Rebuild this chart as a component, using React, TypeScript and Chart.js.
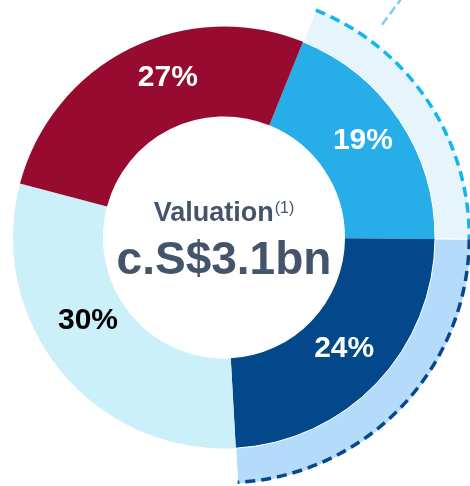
import React, { useEffect, useRef } from 'react';
import { Chart, registerables } from 'chart.js';

Chart.register(...registerables);

// ---- data ----
const categories = ['Segment A', 'Segment B', 'Segment C', 'Segment D'];
const shares = [19, 24, 30, 27];
const shareLabels = ['19%', '24%', '30%', '27%'];
const segmentColors = ['#27ADE8', '#03488B', '#CCF0FA', '#970B30'];
const labelColors = ['#FFFFFF', '#FFFFFF', '#000000', '#FFFFFF'];
const highlightShares = [19, 24, 57];
const highlightColors = ['#E6F5FC', '#B5DBFA', 'rgba(0,0,0,0)'];
const highlightBorders = ['#FFFFFF', '#FFFFFF', 'rgba(0,0,0,0)'];
const highlightDashColors = ['#13B5EC', '#08488A', ''];
const centerTitle = 'Valuation';
const centerNote = '(1)';
const centerValue = 'c.S$3.1bn';

// ---- layout / style ----
const labelAngleShift = [-1.4, -1.1, 8, 7.3];
const labelRadius = [170, 163, 159, 170];
const connectorAngle = 36.6;
const FONT = '"Liberation Sans", Arial, Helvetica, sans-serif';
const DEG = Math.PI / 180;

const overlayPlugin = {
  id: 'overlay',
  afterDatasetsDraw(chart: any) {
    const ctx = chart.ctx as CanvasRenderingContext2D;
    const outer = chart.getDatasetMeta(0).data;
    const inner = chart.getDatasetMeta(1).data;
    const cx = inner[0].x;
    const cy = inner[0].y;
    ctx.save();

    // dashed outer arcs
    outer.forEach((arc: any, i: number) => {
      const color = highlightDashColors[i];
      if (!color) return;
      const p = arc.getProps(['startAngle', 'endAngle', 'outerRadius'], true);
      ctx.beginPath();
      ctx.setLineDash([10, 6]);
      ctx.lineWidth = 3.5;
      ctx.strokeStyle = color;
      ctx.arc(cx, cy, p.outerRadius - 1.75, p.startAngle, p.endAngle);
      ctx.stroke();
    });

    // connector
    const ca = (connectorAngle - 90) * DEG;
    ctx.beginPath();
    ctx.setLineDash([9, 4]);
    ctx.lineWidth = 2.5;
    ctx.strokeStyle = '#80CDF3';
    ctx.moveTo(cx + 265 * Math.cos(ca), cy + 265 * Math.sin(ca));
    ctx.lineTo(cx + 330 * Math.cos(ca), cy + 330 * Math.sin(ca));
    ctx.stroke();
    ctx.setLineDash([]);

    // percentage labels
    ctx.font = `bold 30px ${FONT}`;
    ctx.textAlign = 'center';
    ctx.textBaseline = 'middle';
    inner.forEach((arc: any, i: number) => {
      const p = arc.getProps(['startAngle', 'endAngle'], true);
      const a = (p.startAngle + p.endAngle) / 2 + labelAngleShift[i] * DEG;
      const r = labelRadius[i];
      ctx.fillStyle = labelColors[i];
      ctx.fillText(shareLabels[i], cx + r * Math.cos(a), cy + r * Math.sin(a) + 1);
    });

    // center text
    ctx.fillStyle = '#44546A';
    ctx.textBaseline = 'alphabetic';
    ctx.textAlign = 'left';
    ctx.font = `bold 27px ${FONT}`;
    const wTitle = ctx.measureText(centerTitle).width;
    ctx.font = `16px ${FONT}`;
    const wNote = ctx.measureText(centerNote).width;
    const startX = cx - (wTitle + wNote + 1) / 2;
    ctx.font = `bold 27px ${FONT}`;
    ctx.fillText(centerTitle, startX, cy - 16.5);
    ctx.font = `16px ${FONT}`;
    ctx.fillText(centerNote, startX + wTitle + 1, cy - 24.5);
    ctx.textAlign = 'center';
    ctx.font = `bold 46px ${FONT}`;
    ctx.fillText(centerValue, cx, cy + 36);
    ctx.restore();
  },
};

export default function App() {
  const canvasRef = useRef<HTMLCanvasElement | null>(null);

  useEffect(() => {
    document.body.style.margin = '0';
    const canvas = canvasRef.current;
    if (!canvas) return;
    const chart = new Chart(canvas, {
      type: 'doughnut',
      data: {
        labels: categories,
        datasets: [
          {
            data: highlightShares,
            backgroundColor: highlightColors,
            borderColor: highlightBorders,
            borderWidth: 1,
            weight: 36,
            clip: false,
          } as any,
          {
            data: shares,
            backgroundColor: segmentColors,
            borderWidth: 0,
            weight: 90,
            clip: false,
          } as any,
        ],
      },
      options: {
        animation: false,
        responsive: false,
        maintainAspectRatio: false,
        devicePixelRatio: 1,
        rotation: 22,
        radius: 247,
        cutout: '49%',
        layout: { padding: { left: 0, top: 0, right: 22, bottom: 11 } },
        plugins: {
          legend: { display: false },
          tooltip: { enabled: false },
        },
        events: [],
      } as any,
      plugins: [overlayPlugin],
    });
    return () => chart.destroy();
  }, []);

  return (
    <div style={{ position: 'absolute', left: 0, top: 0, width: 470, height: 486, overflow: 'hidden', background: '#FFFFFF' }}>
      <canvas ref={canvasRef} width={470} height={486} style={{ width: 470, height: 486, display: 'block' }} />
    </div>
  );
}
